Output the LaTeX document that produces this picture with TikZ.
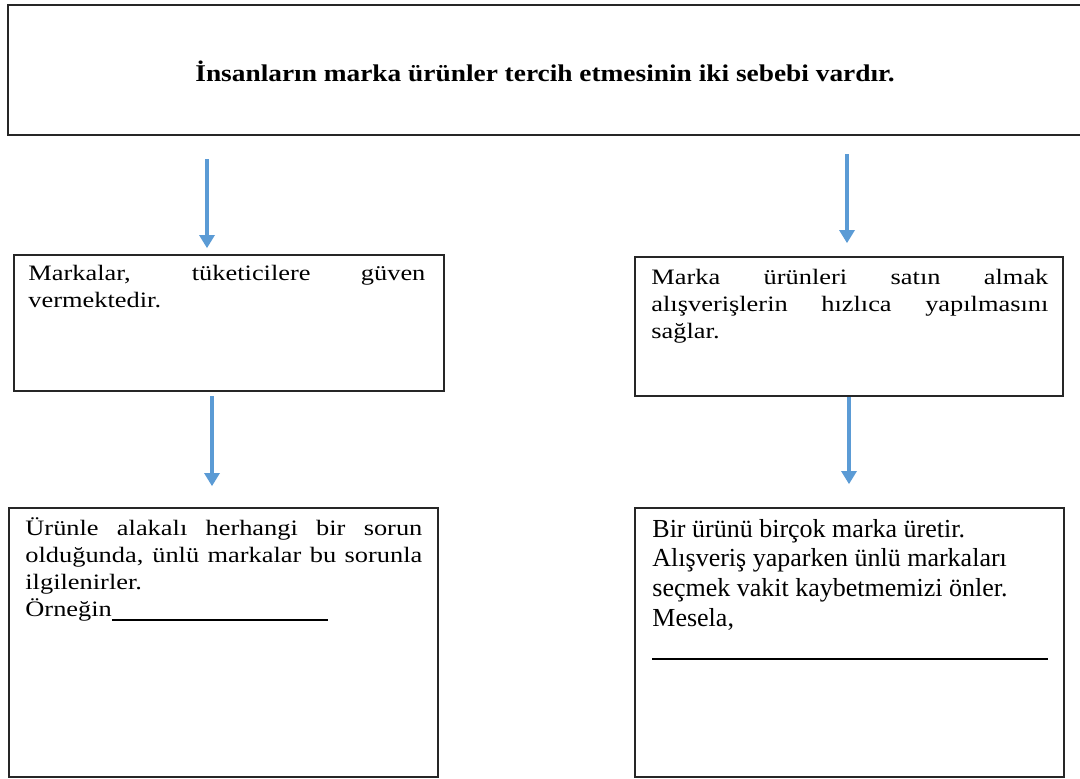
\documentclass[tikz,border=0pt]{standalone}
\usepackage{fontspec}
\setmainfont{Liberation Serif}
\newfontfamily\genis[FakeStretch=1.2]{Liberation Serif}
\newfontfamily\baslik[FakeStretch=1.14]{Liberation Serif}
\usetikzlibrary{arrows.meta,calc}
\definecolor{okmavi}{RGB}{91,155,213}
\hyphenpenalty=10000
\exhyphenpenalty=10000
\tikzset{
  bx/.style   = {draw=black!85, line width=1pt, anchor=north west, inner sep=0pt},
  txt/.style  = {anchor=base west, inner sep=0pt, text width=198.5pt, align=justify,
                 font=\genis\fontsize{11}{13.6}\selectfont},
  txtb/.style = {txt, align=flush left, font=\fontsize{13}{14.85}\selectfont},
  arr/.style  = {-{Triangle[width=8pt,length=6.5pt,line width=0pt]}, draw=okmavi,
                 line width=2pt}
}

\begin{document}
\begin{tikzpicture}[x=0.5pt, y=-0.5pt]
\useasboundingbox (0,0) rectangle (1080,778);

\node[bx, minimum width=545pt, minimum height=65pt] (ana) at (7,4) {};
\node[anchor=base, inner sep=0pt, font=\baslik\fontsize{12}{14}\selectfont\bfseries] (anametin) at (545,81)
  {İnsanların marka ürünler tercih etmesinin iki sebebi vardır.};

\node[bx, minimum width=215pt, minimum height=68pt] (guven) at (13,254) {};
\node[txt] (guvenmetin) at (28,280)
  {Markalar, tüketicilere güven vermektedir.};

\node[bx, minimum width=214pt, minimum height=69.5pt] (hiz) at (634,256) {};
\node[txt] (hizmetin) at (651,284)
  {Marka ürünleri satın almak alışverişlerin hızlıca yapılmasını sağlar.};

\node[bx, minimum width=214.5pt, minimum height=134.5pt] (sorun) at (8,507) {};
\node[txt] (sorunmetin) at (25,535)
  {Ürünle alakalı herhangi bir sorun olduğunda, ünlü markalar bu sorunla ilgilenirler.\\
   Örneğin\rule[-2pt]{108pt}{0.7pt}};

\node[bx, minimum width=214.5pt, minimum height=134.5pt] (vakit) at (634,507) {};
\node[txtb] (vakitmetin) at (652,537)
  {Bir ürünü birçok marka üretir.\\
   Alışveriş yaparken ünlü markaları\\
   seçmek vakit kaybetmemizi önler.\\
   Mesela,\\
   \rule[-2pt]{198pt}{0.7pt}};

\coordinate (k1) at (207,0);
\coordinate (k2) at (847,0);
\coordinate (k3) at (212,0);
\coordinate (k4) at (849,0);
\draw[arr, shorten <=11.5pt, shorten >=3pt]  (k1 |- ana.south) -- (k1 |- guven.north);
\draw[arr, shorten <=9pt,    shorten >=6.5pt] (k2 |- ana.south) -- (k2 |- hiz.north);
\draw[arr, shorten <=2pt,    shorten >=10.5pt] (k3 |- guven.south) -- (k3 |- sorun.north);
\draw[arr, shorten >=11.5pt] (k4 |- hiz.south) -- (k4 |- vakit.north);
\end{tikzpicture}
\end{document}
